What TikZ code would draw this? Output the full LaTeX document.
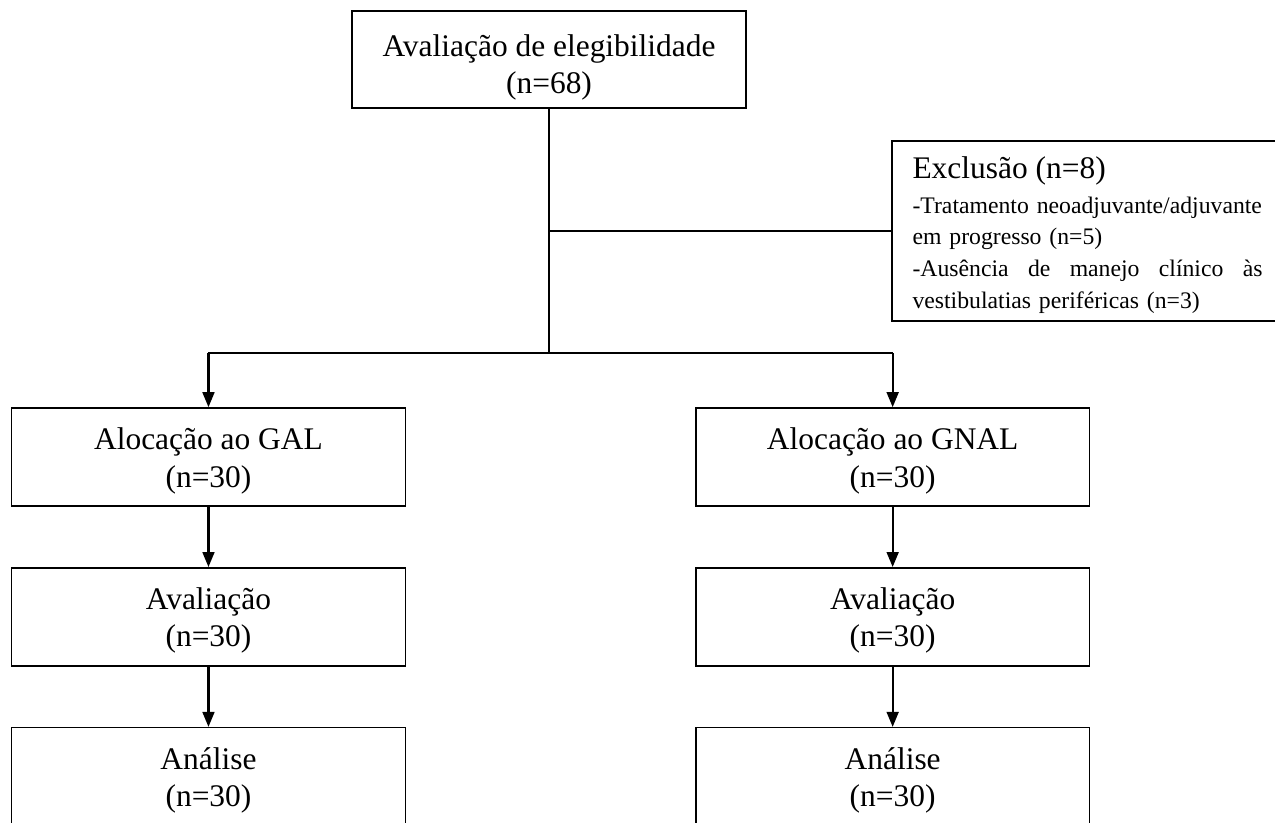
\documentclass[tikz,border=0pt]{standalone}
\usepackage{fontspec}
\setmainfont{Liberation Serif}
\usepackage{tikz}
\usetikzlibrary{arrows.meta}
\tikzstyle{block} = [rectangle, minimum width=5.37cm, minimum height=1.34cm, inner ysep=1pt, text centered, align=center, draw=black, line width=0.6pt, fill=white, font=\fontsize{12.2}{14.6}\selectfont]
\tikzstyle{exbox} = [rectangle, minimum width=5.5cm, minimum height=2.455cm, draw=black, line width=0.6pt, fill=white]
\tikzstyle{extext} = [inner sep=0pt, text width=4.773cm, align=left, font=\fontsize{9.2}{12.4}\selectfont]
\tikzstyle{line} = [line width=0.8pt]
\tikzstyle{arrow} = [line width=0.8pt,->,>={Triangle[width=4.6pt,length=5.8pt]}]

\begin{document}
\begin{tikzpicture}[node distance=2.18cm]
        \clip (0,0) rectangle (17.387,-11.223);
        \node (elig) [block, minimum height=1.32cm] at (7.487,-0.811) {\rule{0pt}{14.7pt}Avaliação de elegibilidade\\(n=68)};
        \node (excl) [exbox, anchor=north west] at (12.151,-1.909) {};
        \node (excltxt) [extext, anchor=base west] at (12.437,-2.441) {{\fontsize{12.2}{14}\selectfont Exclusão (n=8)}\\[0.8pt]
            -Tratamento neoadjuvante/adjuvante\\
            em progresso (n=5)\\
            \makebox[4.773cm][l]{-Ausência\hfill de\hfill manejo\hfill clínico\hfill às}\\
            vestibulatias periféricas (n=3)};
        \node (gal) [block, below of=elig, yshift=-3.242cm, xshift=-4.644cm] {\rule{0pt}{11.3pt}Alocação ao GAL\\(n=30)};
        \node (gnal) [block, right of=gal, xshift=+7.15cm] {\rule{0pt}{11.3pt}Alocação ao GNAL\\(n=30)};
        \node (aval1) [block, below of=gal] {\rule{0pt}{11.3pt}Avaliação\\(n=30)};
        \node (aval2) [block, below of=gnal] {\rule{0pt}{11.3pt}Avaliação\\(n=30)};
        \node (anal1) [block, below of=aval1] {\rule{0pt}{11.3pt}Análise\\(n=30)};
        \node (anal2) [block, below of=aval2] {\rule{0pt}{11.3pt}Análise\\(n=30)};
        \coordinate (split) at (elig.south |- 0,-4.814);

        \draw [line] (elig.south) -- (split);
        \draw [line] (elig.south |- excl.west) -- (excl.west);
        \draw [line] (split -| gal) -- (split -| gnal);
        \draw [arrow] (split -| gal) -- (gal.north);
        \draw [arrow] (split -| gnal) -- (gnal.north);
        \draw [arrow] (gal) -- (aval1);
        \draw [arrow] (aval1) -- (anal1);
        \draw [arrow] (gnal) -- (aval2);
        \draw [arrow] (aval2) -- (anal2);
     \end{tikzpicture}
\end{document}
